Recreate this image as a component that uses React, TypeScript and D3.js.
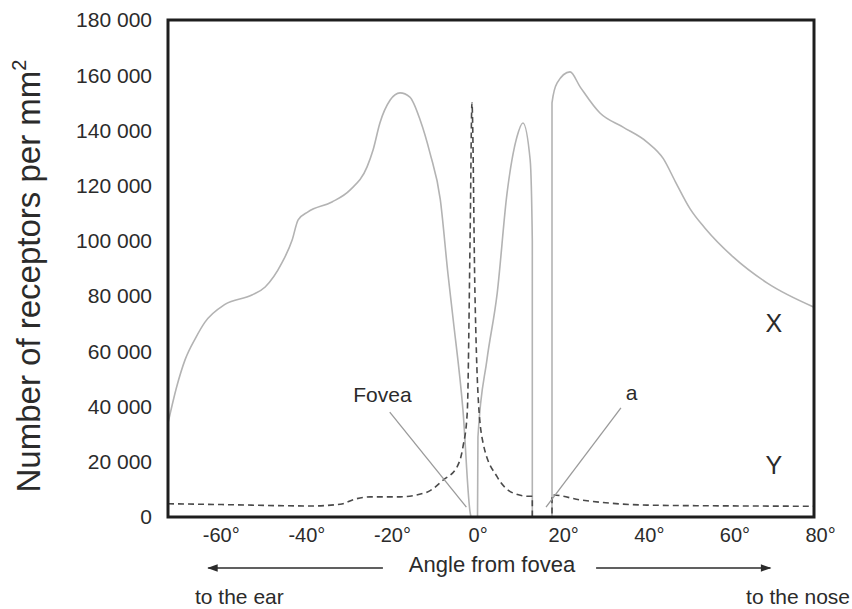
import * as d3 from "d3";

// angle from fovea (degrees) and receptor density per mm²
const rodAngles = [
  -71.5, -69.5, -67.5, -65.0, -62.9, -58.2, -51.9, -48.8, -44.9, -42.5, -41.1, -38.8, -33.2,
  -29.0, -25.0, -23.6, -22.0, -19.6, -17.3, -15.0, -12.6, -10.3, -7.9, -6.1, -4.9, -2.6,
  -0.9, -0.7, 0.8, 0.9, 3.0, 5.4, 7.7, 10.0, 11.4, 13.1, 13.6, 13.6, 18.2, 18.2, 19.4,
  22.4, 24.8, 29.4, 34.8, 40.4, 44.2, 47.0, 50.5, 54.0, 60.5, 68.5, 79.4,
];
const rodDensity = [
  34000, 47000, 57000, 65000, 70500, 77000, 80400, 83300, 92000, 100300, 107600, 110500,
  114100, 118400, 126800, 132900, 142700, 151000, 153600, 152100, 143800, 131800, 115000,
  88000, 71700, 38700, 1400, 0, 0, 29000, 56900, 81100, 117300, 137600, 142700, 129300,
  100000, 0, 0, 150000, 157200, 161200, 155700, 146300, 141200, 135800, 129800, 121500,
  111500, 104500, 94200, 84700, 76000,
];

const coneAngles = [
  -71.5, -58.9, -38.3, -31.3, -27.8, -24.3, -17.3, -11.0, -7.2, -4.0, -2.6, -1.6, -0.9,
  -0.5, 0.2, 0.9, 2.1, 5.4, 9.1, 12.6, 13.6, 13.6, 18.2, 18.2, 24.8, 31.8, 40.4, 62.1, 79.4,
];
const coneDensity = [
  4800, 4500, 4000, 4600, 6500, 7300, 7300, 9000, 13400, 18100, 25400, 37700, 105000,
  150000, 81100, 44900, 26800, 14500, 8700, 7500, 7500, 0, 0, 8000, 6200, 5000, 4300,
  4000, 3900,
];

const yTicks = [0, 20000, 40000, 60000, 80000, 100000, 120000, 140000, 160000, 180000];
const xTicks = [-60, -40, -20, 0, 20, 40, 60, 80];

const W = 852;
const H = 609;
const left = 168, right = 814, top = 20, bottom = 517;
const font = "'Liberation Sans', Arial, sans-serif";
const ink = "#2b2b2b";

const fmt = (v: number) => d3.format(",")(v).replace(/,/g, " ");

export default function App() {
  const x = d3.scaleLinear().domain([-71.5, 79.4]).range([left, right]);
  const y = d3.scaleLinear().domain([0, 180000]).range([bottom, top]);

  const line = d3
    .line<number[]>()
    .x((d) => x(d[0]))
    .y((d) => y(d[1]))
    .curve(d3.curveMonotoneX);

  const rods = line(rodAngles.map((a, i) => [a, rodDensity[i]]));
  const cones = line(coneAngles.map((a, i) => [a, coneDensity[i]]));

  return (
    <svg
      width={W}
      height={H}
      style={{ position: "absolute", left: 0, top: 0, background: "#fff" }}
      fontFamily={font}
    >
      <defs>
        <clipPath id="plot">
          <rect x={left} y={top} width={right - left} height={bottom - top} />
        </clipPath>
        <marker id="head" viewBox="0 0 10 10" refX="9" refY="5" markerWidth="9" markerHeight="7" orient="auto">
          <path d="M0,1.5 L10,5 L0,8.5 Z" fill={ink} />
        </marker>
      </defs>

      <g clipPath="url(#plot)">
        <path d={rods ?? ""} fill="none" stroke="#b3b3b3" strokeWidth={1.6} />
        <path d={cones ?? ""} fill="none" stroke="#4a4a4a" strokeWidth={1.6} strokeDasharray="6,4" />
      </g>

      {/* pointers */}
      <line x1={x(-19.7)} y1={y(38000)} x2={x(-1.8)} y2={y(3600)} stroke="#9a9a9a" strokeWidth={1.3} />
      <line x1={x(34.3)} y1={y(39500)} x2={x(16.8)} y2={y(3600)} stroke="#9a9a9a" strokeWidth={1.3} />
      <text x={x(-21.4)} y={y(44900) + 9} fontSize={21} fill={ink} textAnchor="middle">Fovea</text>
      <text x={x(36.8)} y={y(44200) + 5} fontSize={21} fill={ink} textAnchor="middle">a</text>
      <text x={x(70)} y={y(70200) + 9} fontSize={25} fill={ink} textAnchor="middle">X</text>
      <text x={x(70)} y={y(18800) + 9} fontSize={25} fill={ink} textAnchor="middle">Y</text>

      {/* frame */}
      <rect x={left} y={top} width={right - left} height={bottom - top} fill="none" stroke="#1e1e1e" strokeWidth={3} />

      {yTicks.map((t) => (
        <text key={t} x={152} y={y(t)} dy="0.35em" fontSize={21} fill={ink} textAnchor="end">
          {fmt(t)}
        </text>
      ))}
      {xTicks.map((t) => (
        <text key={t} x={x(t) + 4} y={542} fontSize={20} fill={ink} textAnchor="middle">
          {`${t}°`}
        </text>
      ))}

      <text x={492} y={572} fontSize={22} fill={ink} textAnchor="middle">Angle from fovea</text>
      <line x1={x(-21.3)} y1={568} x2={x(-62.1)} y2={568} stroke={ink} strokeWidth={1.5} markerEnd="url(#head)" />
      <line x1={x(28.5)} y1={568} x2={x(69.2)} y2={568} stroke={ink} strokeWidth={1.5} markerEnd="url(#head)" />
      <text x={195} y={604} fontSize={21} fill={ink}>to the ear</text>
      <text x={850} y={604} fontSize={21} fill={ink} textAnchor="end">to the nose</text>

      <text transform="translate(40,276) rotate(-90)" fontSize={33} fill={ink} textAnchor="middle">
        Number of receptors per mm
        <tspan fontSize={20} dy={-14}>2</tspan>
      </text>
    </svg>
  );
}
